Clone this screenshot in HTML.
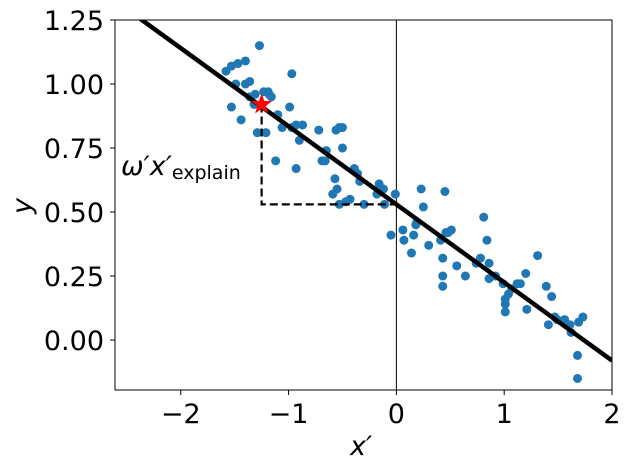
<!DOCTYPE html>
<html><head><meta charset="utf-8"><style>
body{margin:0;background:#fff}
svg text{font-family:"DejaVu Sans","Liberation Sans",sans-serif}
</style></head><body>
<svg id="chart" width="630" height="471" viewBox="0 0 630 471" xmlns="http://www.w3.org/2000/svg"></svg>
<script>
const xs=[-1.58,-1.53,-1.47,-1.40,-1.27,-1.49,-1.40,-1.36,-1.44,-1.31,-1.19,-1.23,-1.18,-0.97,-1.29,-1.21,-1.12,-1.10,-1.06,-0.99,-0.97,-0.93,-0.90,-0.93,-0.87,-0.72,-0.56,-0.53,-0.50,-0.50,-0.65,-0.69,-0.66,-0.57,-0.59,-0.55,-0.47,-0.36,-0.39,-0.34,-0.43,-0.53,-0.30,-0.16,-0.12,-0.11,-0.18,-0.01,-0.05,0.06,0.07,0.16,0.18,0.19,0.14,0.23,0.25,0.30,0.45,0.46,0.48,0.51,0.41,0.43,0.43,0.43,0.56,0.64,0.74,0.78,0.81,0.84,0.86,0.86,0.92,0.99,1.01,1.01,1.01,1.04,1.07,1.12,1.15,1.20,1.21,1.31,1.39,1.41,1.44,1.47,1.49,1.56,1.61,1.62,1.68,1.68,1.69,1.73,-1.53,-1.36,-1.32,-1.16];
const ys=[1.05,1.07,1.08,1.09,1.15,1.00,1.00,0.95,0.86,0.96,0.97,0.97,0.96,1.04,0.81,0.81,0.70,0.88,0.83,0.91,0.83,0.84,0.78,0.67,0.84,0.82,0.82,0.83,0.83,0.75,0.74,0.70,0.70,0.63,0.57,0.59,0.54,0.65,0.67,0.62,0.55,0.53,0.53,0.61,0.59,0.53,0.57,0.57,0.41,0.43,0.39,0.41,0.45,0.46,0.34,0.59,0.52,0.37,0.58,0.42,0.42,0.43,0.39,0.32,0.25,0.21,0.29,0.25,0.30,0.32,0.48,0.39,0.30,0.24,0.25,0.22,0.16,0.11,0.14,0.18,0.20,0.22,0.22,0.26,0.12,0.33,0.21,0.06,0.17,0.09,0.08,0.08,0.06,0.03,-0.06,-0.15,0.07,0.09,0.91,1.01,0.92,0.95];
const xTicks=[-2,-1,0,1,2];
const yTicks=[0,0.25,0.5,0.75,1.0,1.25];
const yTickLabels=["0.00","0.25","0.50","0.75","1.00","1.25"];
const intercept=[0.53];
const slope=[-0.305];
const star=[-1.25,0.92];

const L=115,R=612,T=20,B=390,X0=-2.61,X1=2.0,Y0=-0.195,Y1=1.25;
const sx=v=>L+(v-X0)/(X1-X0)*(R-L);
const sy=v=>B-(v-Y0)/(Y1-Y0)*(B-T);
const svg=document.getElementById('chart');
const NS='http://www.w3.org/2000/svg';
function mk(tag,attrs,parent){const e=document.createElementNS(NS,tag);for(const k in attrs)e.setAttribute(k,attrs[k]);(parent||svg).appendChild(e);return e;}

const clip=mk('clipPath',{id:'pc'});mk('rect',{x:L,y:T,width:R-L,height:B-T},clip);
const g=mk('g',{'clip-path':'url(#pc)'});



const vl=mk('line',{x1:sx(0),x2:sx(0),y1:T,y2:B,stroke:'#000','stroke-width':1},g);



xs.forEach((x,i)=>{
  const c=mk('circle',{cx:sx(x),cy:sy(ys[i]),r:4.5,fill:'#1f77b4'},g);
  
  
});

const fl=mk('line',{x1:sx(X0),y1:sy(intercept[0]+slope[0]*X0),x2:sx(X1),y2:sy(intercept[0]+slope[0]*X1),stroke:'#000','stroke-width':4.5},g);



const dp=mk('path',{d:`M${sx(star[0])},${sy(star[1])} L${sx(star[0])},${sy(intercept[0])} L${sx(0)},${sy(intercept[0])}`,fill:'none',stroke:'#000','stroke-width':2.2,'stroke-dasharray':'8,4'},g);



(function(){const cx=sx(star[0]),cy=sy(star[1]);let pts=[];for(let i=0;i<10;i++){const r=i%2?4.5:11;const a=-Math.PI/2+i*Math.PI/5;pts.push((cx+r*Math.cos(a)).toFixed(1)+','+(cy+r*Math.sin(a)).toFixed(1));}
const s=mk('polygon',{points:pts.join(' '),fill:'#ff0000'},g);

})();

const fr=mk('rect',{x:L,y:T,width:R-L,height:B-T,fill:'none',stroke:'#000','stroke-width':1});



xTicks.forEach(v=>{
  mk('line',{x1:sx(v),x2:sx(v),y1:B,y2:B+5,stroke:'#000'});
  const t=mk('text',{x:sx(v),y:B+33,'text-anchor':'middle','font-size':27});
  t.textContent=(v<0?'\u2212':'')+Math.abs(v);
  
  
});
yTicks.forEach((v,i)=>{
  mk('line',{x1:L-5,x2:L,y1:sy(v),y2:sy(v),stroke:'#000'});
  const t=mk('text',{x:L-11,y:sy(v)+10,'text-anchor':'end','font-size':27});
  t.textContent=yTickLabels[i];
  
  
});
</script>
<svg style="position:absolute;left:0;top:0" width="630" height="471">
<text x="350" y="455" font-size="27" font-style="italic" font-family="DejaVu Sans, sans-serif">x′</text>
<text x="0" y="0" font-size="27" font-style="italic" font-family="DejaVu Sans, sans-serif" transform="translate(31,214) rotate(-90)">y</text>
<text x="121" y="175" font-size="27" font-family="DejaVu Sans, sans-serif"><tspan font-style="italic">ω′x′</tspan><tspan font-size="19" dy="4">explain</tspan></text>
</svg>
</body></html>
